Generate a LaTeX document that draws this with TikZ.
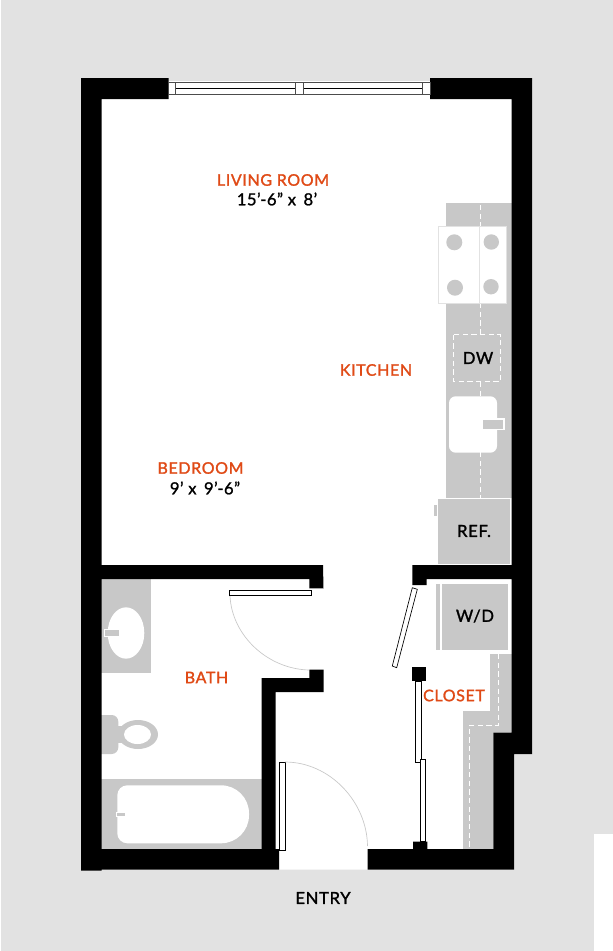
\documentclass[tikz,border=0pt]{standalone}
\usepackage{fontspec}
\setmainfont[FakeBold=1.2,LetterSpace=2.5]{Lato}
\newfontfamily\planfont[FakeBold=1.5,LetterSpace=4]{Lato}
\definecolor{sitegray}{HTML}{E2E2E2}
\definecolor{fixgray}{HTML}{C8C8C8}
\definecolor{roomorange}{HTML}{E04A16}
\tikzset{
    roomlabel/.style={text=roomorange, font=\planfont\fontsize{12}{13}\selectfont, inner sep=0pt},
    sizelabel/.style={text=black, font=\fontsize{12.5}{13}\selectfont, inner sep=0pt},
    fixlabel/.style={text=black, font=\planfont\fontsize{12.5}{13}\selectfont, inner sep=0pt},
    wall/.style={fill=black},
    fixture/.style={fill=fixgray},
    leaf/.style={draw=black, fill=white, line width=0.5pt},
    swing/.style={draw=fixgray, line width=0.5pt},
    counterline/.style={draw=white, dashed, line width=0.5pt, dash pattern=on 4pt off 2.5pt},
    sash/.style={draw=black!70, fill=white, line width=0.6pt}
}
\begin{document}
\begin{tikzpicture}[x=0.75pt, y=-0.75pt]
    \useasboundingbox (0, 0) rectangle (613, 951);
    % site and floor
    \fill [sitegray] (1, 0) rectangle (613, 951);
    \fill [white] (594, 834) rectangle (613, 951);
    \fill [white] (81, 81) -- (532, 81) -- (532, 754) -- (514, 754) -- (514, 869.5) -- (81, 869.5) -- cycle;

    % kitchen
    \fill [fixture] (446, 203) rectangle (511.7, 499);
    \draw [counterline] (480.5, 205) -- (480.5, 227);
    \draw [counterline] (480.5, 303) -- (480.5, 334);
    \draw [counterline] (480.5, 382) -- (480.5, 396);
    \draw [counterline] (480.5, 452) -- (480.5, 498);
    \draw [draw=sitegray, fill=white, line width=0.6pt] (438.7, 226.7) rectangle (506.5, 303.3);
    \draw [draw=sitegray, line width=0.5pt] (479.5, 227) -- (479.5, 303);
    \fill [fixture] (454.3, 242.3) circle (8);
    \fill [fixture] (491.3, 242) circle (7.7);
    \fill [fixture] (455, 287.7) circle (8);
    \fill [fixture] (491, 286.7) circle (7.7);
    \draw [counterline] (453.3, 334.7) rectangle (500.7, 381.3);
    \fill [white, rounded corners=5pt] (449, 396.3) rectangle (497, 452.7);
    \draw [draw=white, fill=fixgray, line width=0.8pt] (482.3, 419) rectangle (504, 429.7);
    \draw [draw=white, fill=fixgray, line width=0.8pt] (437.7, 498.3) rectangle (511, 564.3);
    \fill [fixture] (434, 505) rectangle (437.3, 515.7);

    % closet
    \fill [fixture] (441.7, 584) rectangle (508.3, 650);
    \fill [fixture] (436.3, 584) rectangle (440, 650);
    \fill [fixture] (490, 654) -- (512, 654) -- (512, 732.5) -- (493, 732.5) -- (493, 849)
        -- (463, 849) -- (463, 711) -- (490, 711) -- cycle;
    \draw [counterline] (498.7, 654) -- (498.7, 725) -- (469.3, 725) -- (469.3, 847);

    % bath
    \fill [fixture] (101, 579) rectangle (151, 672.7);
    \fill [white] (126, 633) ellipse (18.3 and 25.7);
    \draw [draw=white, fill=fixgray, line width=0.8pt] (104.5, 629.5) rectangle (120, 636.5);
    \fill [fixture, rounded corners=5pt] (90, 715) rectangle (118.3, 754);
    \fill [fixture] (138, 734.5) ellipse (20 and 14.5);
    \fill [fixture] (115, 726) rectangle (125, 743);
    \fill [white] (137.5, 734.5) ellipse (13.5 and 9.5);
    \fill [fixture] (101, 778.7) rectangle (262, 849);
    \fill [white, rounded corners=7.5pt] (185, 785.3) -- (117.3, 785.3) -- (117.3, 843.3) -- (185, 843.3)
        [rounded corners=21pt] -- (249, 843.3) -- (249, 785.3) -- cycle;
    \draw [draw=white, fill=fixgray, line width=1pt] (116.5, 812.5) rectangle (126, 816.5);

    % walls
    \fill [wall] (81, 78) -- (168.5, 78) -- (168.5, 99) -- (101.5, 99) -- (101.5, 565) -- (323, 565)
        -- (323.5, 588.3) -- (309.3, 588.3) -- (309.3, 579) -- (101.5, 579) -- (101.5, 849) -- (261.7, 849)
        -- (261.7, 678) -- (309.3, 678) -- (309.3, 669.5) -- (323.5, 669.5) -- (323.5, 692) -- (275.5, 692)
        -- (275.5, 849) -- (279, 849) -- (279, 869.5) -- (101.5, 869.5) -- (101.5, 870.5) -- (81, 870.5) -- cycle;
    \fill [wall] (430, 78) -- (532, 78) -- (532, 754) -- (514, 754) -- (514, 869.5) -- (367.5, 869.5)
        -- (367.5, 849) -- (413, 849) -- (413, 841.7) -- (427.3, 841.7) -- (427.3, 849) -- (493.3, 849)
        -- (493.3, 732.5) -- (511.7, 732.5) -- (511.7, 579) -- (426.5, 579) -- (426.5, 585) -- (412.3, 585)
        -- (412.3, 565) -- (511.7, 565) -- (511.7, 99) -- (430, 99) -- cycle;
    \fill [wall] (411.7, 667) rectangle (426, 681);

    % window
    \draw [sash] (168.5, 82.7) rectangle (430, 94);
    \draw [draw=black, line width=0.6pt] (175.5, 88.5) -- (423, 88.5);
    \draw [sash] (168.5, 82.7) rectangle (175.7, 94);
    \draw [sash] (295.3, 82.7) rectangle (303, 94);
    \draw [sash] (422.7, 82.7) rectangle (430, 94);

    % doors
    \draw [leaf] (229.3, 590.7) rectangle (311.7, 595.7);
    \draw [swing] (230, 596) .. controls (232, 636) and (268, 669) .. (309, 670);
    \draw [leaf] (412.3, 587.7) -- (417.3, 589.3) -- (396.7, 667.7) -- (392.3, 666) -- cycle;
    \draw [leaf] (415.7, 681) rectangle (421.3, 762.7);
    \draw [leaf] (420, 759.5) rectangle (425.3, 841.5);
    \draw [leaf] (279.3, 762.3) rectangle (285.7, 850.3);
    \draw [swing] (285, 762) .. controls (330, 762) and (367, 802) .. (367.5, 846);

    % labels
    \node [roomlabel] (Nliving) at (273, 180) {LIVING ROOM};
    \node [sizelabel] (Sliving) at (277, 199) {15’-6” x\, 8’};
    \node [roomlabel] (Nbed) at (200.5, 468) {BEDROOM};
    \node [sizelabel] (Sbed) at (205, 488) {9’ x\, 9’-6”};
    \node [roomlabel] (Nkitchen) at (376, 370) {KITCHEN};
    \node [roomlabel] (Nbath) at (206.5, 677.5) {BATH};
    \node [roomlabel] (Ncloset) at (454, 695.5) {CLOSET};
    \node [fixlabel] (Nentry) at (323, 898) {ENTRY};
    \node [fixlabel] (Ndw) at (478, 358) {DW};
    \node [fixlabel] (Nref) at (474, 531) {REF.};
    \node [fixlabel] (Nwd) at (475, 616) {W/D};
\end{tikzpicture}
\end{document}
